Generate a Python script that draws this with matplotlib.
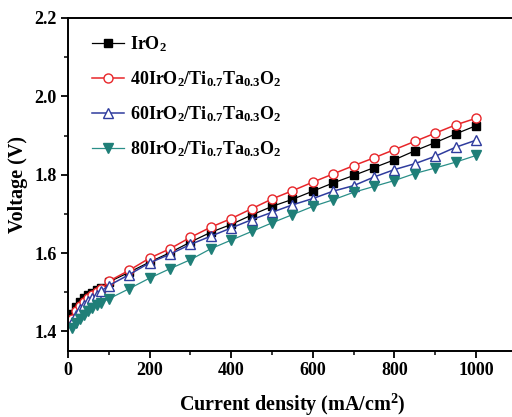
import matplotlib
matplotlib.use("Agg")
import matplotlib.pyplot as plt
from matplotlib.ticker import MultipleLocator

plt.rcParams["font.family"] = ["Liberation Serif", "DejaVu Serif"]
plt.rcParams["font.weight"] = "bold"
plt.rcParams["mathtext.fontset"] = "custom"
plt.rcParams["mathtext.rm"] = "Liberation Serif:bold"
plt.rcParams["mathtext.bf"] = "Liberation Serif:bold"
plt.rcParams["mathtext.it"] = "Liberation Serif:bold"
plt.rcParams["mathtext.default"] = "bf"

# Current density (mA/cm2)
current = [10, 20, 30, 40, 50, 60, 70, 80, 100, 150, 200, 250, 300, 350, 400,
           450, 500, 550, 600, 650, 700, 750, 800, 850, 900, 950, 1000]

# Cell voltage (V)
v_iro2 = [1.445, 1.463, 1.474, 1.484, 1.492, 1.499, 1.505, 1.511, 1.526, 1.551,
          1.577, 1.601, 1.628, 1.653, 1.673, 1.697, 1.719, 1.737, 1.758, 1.779,
          1.798, 1.818, 1.838, 1.861, 1.882, 1.904, 1.925]
v_40 = [1.432, 1.452, 1.465, 1.476, 1.485, 1.493, 1.500, 1.507, 1.528, 1.556,
        1.587, 1.611, 1.640, 1.666, 1.688, 1.713, 1.738, 1.759, 1.781, 1.802,
        1.823, 1.843, 1.864, 1.885, 1.906, 1.927, 1.944]
v_60 = [1.425, 1.443, 1.456, 1.467, 1.477, 1.486, 1.494, 1.502, 1.517, 1.545,
        1.575, 1.597, 1.622, 1.643, 1.664, 1.685, 1.704, 1.723, 1.739, 1.758,
        1.772, 1.794, 1.813, 1.828, 1.847, 1.870, 1.888]
v_80 = [1.409, 1.422, 1.432, 1.443, 1.452, 1.460, 1.467, 1.473, 1.483, 1.509,
        1.536, 1.560, 1.583, 1.611, 1.633, 1.655, 1.677, 1.698, 1.719, 1.736,
        1.755, 1.770, 1.785, 1.803, 1.817, 1.832, 1.849]

labels = [r"IrO$_2$",
          r"40IrO$_2$/Ti$_{0.7}$Ta$_{0.3}$O$_2$",
          r"60IrO$_2$/Ti$_{0.7}$Ta$_{0.3}$O$_2$",
          r"80IrO$_2$/Ti$_{0.7}$Ta$_{0.3}$O$_2$"]

fig = plt.figure(figsize=(5.12, 4.17), dpi=100)
ax = fig.add_axes([0.1328, 0.1583, 0.8766, 0.7986])

ax.plot(current, v_iro2, color="black", lw=0.9, marker="s", ms=5.5,
        mfc="black", mec="black", label=labels[0])
ax.plot(current, v_40, color="#e8262a", lw=1.1, marker="o", ms=6.5,
        mfc="white", mec="#e8262a", mew=1.0, label=labels[1])
ax.plot(current, v_60, color="#2f3c9e", lw=1.1, marker="^", ms=7,
        mfc="white", mec="#2f3c9e", mew=1.0, label=labels[2])
ax.plot(current, v_80, color="#2a8f88", lw=0.9, marker="v", ms=6.5,
        mfc="#1f7f78", mec="#1f7f78", label=labels[3])

ax.set_xlim(0, 1100)
ax.set_ylim(1.35, 2.2)
ax.xaxis.set_major_locator(MultipleLocator(200))
ax.xaxis.set_minor_locator(MultipleLocator(100))
ax.yaxis.set_major_locator(MultipleLocator(0.2))
ax.yaxis.set_minor_locator(MultipleLocator(0.1))
ax.set_xticks([0, 200, 400, 600, 800, 1000])
ax.tick_params(which="major", direction="out", length=5, width=1.3, labelsize=13, pad=3)
ax.tick_params(which="minor", direction="out", length=3, width=1.1)
for s in ax.spines.values():
    s.set_linewidth(1.4)

ax.set_xlabel(r"Current density (mA/cm$^2$)", fontsize=14.5, fontweight="bold", labelpad=9)
ax.set_ylabel("Voltage (V)", fontsize=14.5, fontweight="bold", labelpad=5)

ax.legend(loc="upper left", frameon=False, fontsize=13, handlelength=1.8,
          handletextpad=0.3, labelspacing=0.85, borderaxespad=0.3,
          bbox_to_anchor=(0.025, 0.99))

fig.savefig("out.png", dpi=100)
